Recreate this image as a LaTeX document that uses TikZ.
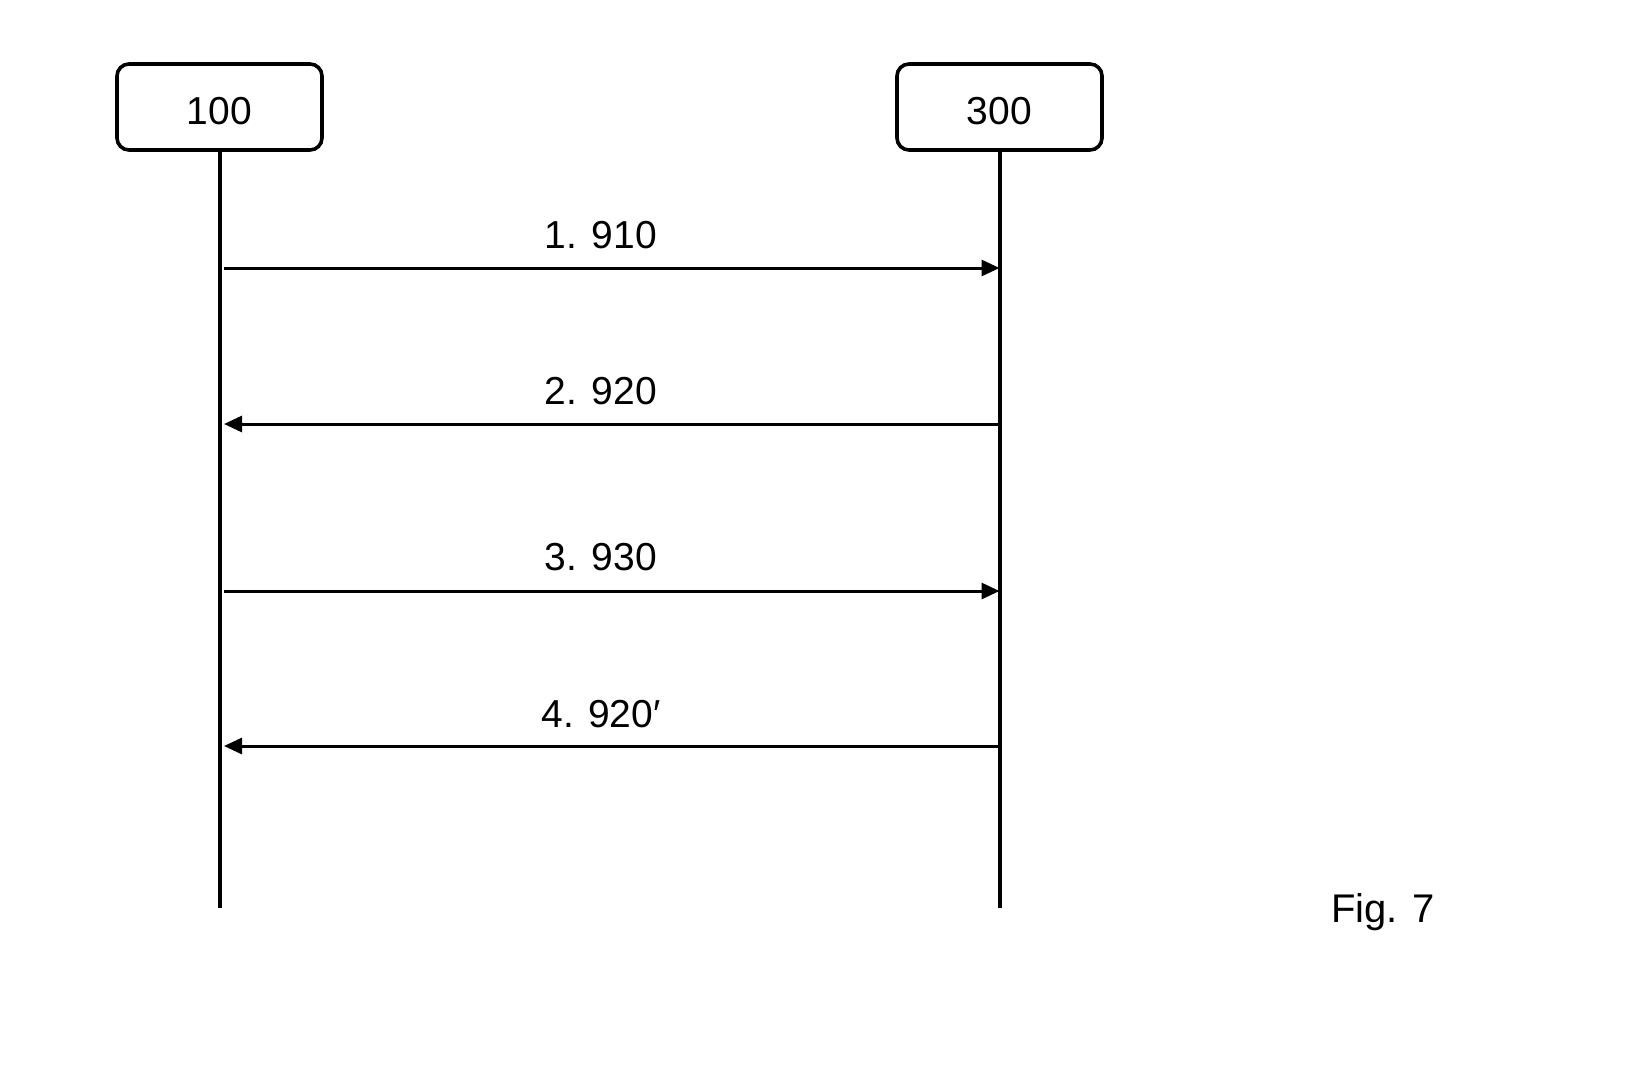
\documentclass[tikz,border=0pt]{standalone}
\usepackage{fontspec}
\setmainfont{Liberation Sans}
\usetikzlibrary{arrows.meta}
\begin{document}
\begin{tikzpicture}[x=1pt,y=-1pt,
  entity/.style={draw,line width=3.6pt,rounded corners=12pt,minimum width=205pt,minimum height=86pt,font=\fontsize{39}{44}\selectfont,inner sep=0pt,text depth=0pt,text height=34pt},
  life/.style={line width=4pt},
  msg/.style={line width=3pt,-{Triangle[length=18pt,width=16pt]}},
  lbl/.style={font=\fontsize{39}{44}\selectfont,inner sep=0pt}]
\useasboundingbox (0,0) rectangle (1637,1081);
\node[entity] (a) at (219.5,107) {100};
\node[entity] (b) at (999.5,107) {300};
\coordinate (aend) at (219.5,908);
\coordinate (bend) at (999.5,908);
\draw[life] (a.south) -- (aend);
\draw[life] (b.south) -- (bend);
\coordinate (a1) at (224,268); \coordinate (b1) at (999.5,268);
\coordinate (a2) at (224,424); \coordinate (b2) at (999.5,424);
\coordinate (a3) at (224,591); \coordinate (b3) at (999.5,591);
\coordinate (a4) at (224,746); \coordinate (b4) at (999.5,746);
\draw[msg] (a1) -- (b1);
\draw[msg] (b2) -- (a2);
\draw[msg] (a3) -- (b3);
\draw[msg] (b4) -- (a4);
\node[lbl] (l1) at (601,235) {1. 910};
\node[lbl] (l2) at (601,391) {2. 920};
\node[lbl] (l3) at (601,557) {3. 930};
\node[lbl] (l4) at (601,714) {4. 920′};
\node[lbl,font=\fontsize{40}{46}\selectfont] (fig) at (1383,912) {Fig. 7};
\end{tikzpicture}
\end{document}
